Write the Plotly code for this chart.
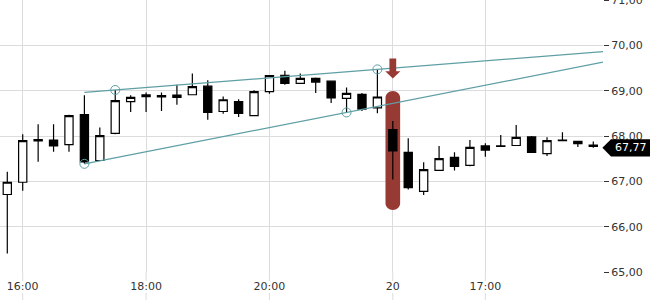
import plotly.graph_objects as go

# ---- data (15-minute bars) ----
opens = [66.71, 66.98, 67.92, 67.91, 67.81, 68.47, 67.46, 68.06, 68.76, 68.87,
         68.89, 68.85, 68.91, 69.10, 68.54, 68.76, 68.45, 68.98, 69.34, 69.16,
         69.27, 69.21, 68.83, 68.92, 68.62, 68.14, 67.64, 66.78, 67.24, 67.53,
         67.35, 67.78, 67.77, 67.79, 67.98, 67.61, 67.90, 67.88, 67.80]
highs = [67.21, 68.04, 68.26, 68.26, 68.47, 68.90, 68.19, 69.015, 68.90, 68.96,
         68.96, 69.13, 69.38, 69.23, 68.87, 68.81, 69.01, 69.34, 69.44, 69.38,
         69.29, 69.21, 69.07, 68.95, 69.47, 68.33, 67.95, 67.42, 67.78, 67.64,
         67.91, 67.84, 68.02, 68.24, 68.00, 67.97, 68.08, 67.89, 67.88]
lows = [65.41, 66.79, 67.43, 67.65, 67.65, 67.386, 67.45, 68.04, 68.53, 68.53,
        68.55, 68.69, 68.91, 68.36, 68.49, 68.42, 68.45, 68.93, 69.13, 69.16,
        68.95, 68.73, 68.52, 68.55, 68.50, 67.04, 66.82, 66.70, 67.24, 67.24,
        67.33, 67.54, 67.77, 67.79, 67.63, 67.56, 67.90, 67.76, 67.74]
closes = [66.98, 67.90, 67.89, 67.78, 68.45, 67.43, 68.01, 68.78, 68.85, 68.91,
          68.86, 68.90, 69.09, 68.52, 68.80, 68.50, 68.98, 69.33, 69.16, 69.27,
          69.19, 68.84, 68.94, 68.59, 68.86, 67.67, 66.86, 67.26, 67.50, 67.33,
          67.75, 67.69, 67.78, 67.97, 67.64, 67.90, 67.91, 67.83, 67.77]
bar_index = list(range(len(opens)))

tick_index = [1, 9, 17, 25, 31]
tick_text = ["16:00", "18:00", "20:00", "20", "17:00"]
price_ticks = [65, 66, 67, 68, 69, 70, 71]

# trend channel (anchored on bar highs / lows)
upper_anchor_x = [7, 24]
upper_anchor_y = [69.015, 69.47]
lower_anchor_x = [5, 22]
lower_anchor_y = [67.386, 68.52]
line_start = 5

signal_index = 25
signal_band = [66.37, 68.99]
arrow_levels = [69.71, 69.43, 69.27]
last_price = 67.77

x_range = [-0.473, 38.63]
y_range = [65, 71]

TEAL = "#5e9fa5"
RED = "#983a34"
GRID = "#dcdcdc"
TXT = "#333333"


def extend(ax, ay, x):
    slope = (ay[1] - ay[0]) / (ax[1] - ax[0])
    return ay[0] + slope * (x - ax[0])


fig = go.Figure()

fig.add_trace(go.Candlestick(
    x=bar_index, open=opens, high=highs, low=lows, close=closes,
    increasing=dict(line=dict(color="black", width=1.2), fillcolor="white"),
    decreasing=dict(line=dict(color="black", width=1.2), fillcolor="black"),
    whiskerwidth=0, hoverinfo="skip", showlegend=False,
))

for ax, ay in [(upper_anchor_x, upper_anchor_y), (lower_anchor_x, lower_anchor_y)]:
    xs = [line_start, x_range[1]]
    fig.add_trace(go.Scatter(
        x=xs, y=[extend(ax, ay, v) for v in xs], mode="lines",
        line=dict(color=TEAL, width=1.2), hoverinfo="skip", showlegend=False,
    ))
    fig.add_trace(go.Scatter(
        x=ax, y=ay, mode="markers",
        marker=dict(symbol="circle-open", size=9, color=TEAL, line=dict(width=1)),
        hoverinfo="skip", showlegend=False,
    ))

shapes = []
# highlight pill around signal bar
k = 0.5523
rx, ry = 0.475, 0.154
xl, xr, xc = signal_index - rx, signal_index + rx, signal_index
yb, yt = signal_band
pill = (f"M{xl},{yt-ry} L{xl},{yb+ry} "
        f"C{xl},{yb+ry-k*ry} {xc-k*rx},{yb} {xc},{yb} "
        f"C{xc+k*rx},{yb} {xr},{yb+ry-k*ry} {xr},{yb+ry} "
        f"L{xr},{yt-ry} "
        f"C{xr},{yt-ry+k*ry} {xc+k*rx},{yt} {xc},{yt} "
        f"C{xc-k*rx},{yt} {xl},{yt-ry+k*ry} {xl},{yt-ry} Z")
shapes.append(dict(type="path", path=pill, xref="x", yref="y",
                   fillcolor=RED, line=dict(width=0), layer="between"))
# down arrow above it
sw, hw = 0.22, 0.49
a0, a1, a2 = arrow_levels
arrow = (f"M{xc-sw},{a0} L{xc+sw},{a0} L{xc+sw},{a1} L{xc+hw},{a1} "
         f"L{xc},{a2} L{xc-hw},{a1} L{xc-sw},{a1} Z")
shapes.append(dict(type="path", path=arrow, xref="x", yref="y",
                   fillcolor=RED, line=dict(width=0), layer="above"))

# grid line stubs below the plot area
plot_h = 272
for t in tick_index:
    for y0, y1 in [(0, -9 / plot_h), (-21 / plot_h, -28 / plot_h)]:
        shapes.append(dict(type="line", xref="x", yref="paper", x0=t, x1=t,
                           y0=y0, y1=y1, line=dict(color=GRID, width=1)))

# last price tag
th = 0.19
tc = last_price - 0.03
tag = (f"M0.999,{tc} L1.0133,{tc+th} L1.08,{tc+th} "
       f"L1.08,{tc-th} L1.0133,{tc-th} Z")
shapes.append(dict(type="path", path=tag, xref="paper", yref="y",
                   fillcolor="black", line=dict(width=0), layer="above"))

fig.update_layout(
    width=650, height=300,
    margin=dict(l=0, r=47, t=0, b=28, autoexpand=False),
    paper_bgcolor="white", plot_bgcolor="white",
    separators=",.",
    font=dict(family="DejaVu Sans", size=11, color=TXT),
    showlegend=False,
    boxgap=0.24,
    shapes=shapes,
    annotations=[dict(
        x=1.016, xref="paper", y=tc, yref="y", xanchor="left", yanchor="middle",
        text=f"{last_price:.2f}".replace(".", ","), showarrow=False,
        font=dict(color="white", size=11, family="DejaVu Sans"),
    )],
    xaxis=dict(
        range=x_range, tickmode="array", tickvals=tick_index, ticktext=tick_text,
        showgrid=True, gridcolor=GRID, gridwidth=1, zeroline=False, showline=False,
        ticks="", rangeslider=dict(visible=False), fixedrange=True,
        ticklabelstandoff=6, automargin=False,
    ),
    yaxis=dict(
        range=y_range, side="right", tickmode="array", tickvals=price_ticks,
        tickformat=".2f", showgrid=True, gridcolor=GRID, gridwidth=1,
        zeroline=False, showline=False, ticks="outside", ticklen=5,
        tickcolor=TXT, tickwidth=1, fixedrange=True, ticklabeloverflow="allow",
        automargin=False,
    ),
)

fig.write_html("out.html")
